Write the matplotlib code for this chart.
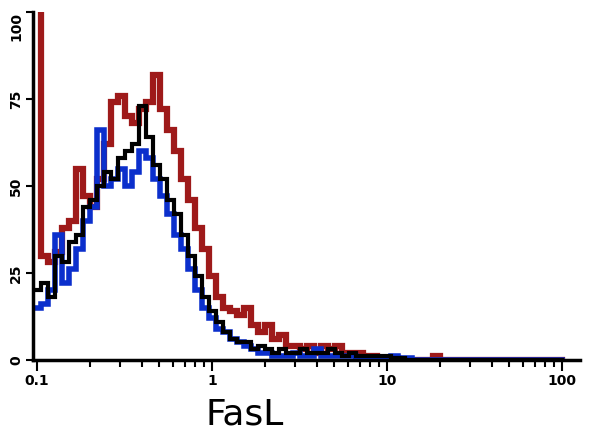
import numpy as np
import matplotlib
matplotlib.use('Agg')
import matplotlib.pyplot as plt
from matplotlib.ticker import LogLocator, NullFormatter, FixedLocator

# histogram counts, one value per log channel (0.04 decade wide, starting at 0.1)
red_counts = [150, 30, 28, 31, 38, 40, 55, 47, 44, 52,
              62, 74, 76, 70, 68, 72, 74, 82, 72, 66,
              60, 52, 46, 38, 32, 24, 18, 15, 14, 13,
              15, 10, 8, 10, 6, 7, 4, 4, 3, 4,
              2, 4, 3, 4, 2, 2, 2, 1, 1, 0.5,
              0, 0.5, 0, 0, 0, 0, 0, 1, 0, 0,
              0, 0, 0, 0, 0, 0, 0, 0, 0, 0,
              0, 0, 0, 0, 0, 0]
blue_counts = [15, 16, 20, 36, 22, 26, 32, 40, 44, 66,
               50, 52, 55, 50, 54, 60, 58, 52, 47, 42,
               36, 32, 26, 20, 15, 12, 9, 8, 6, 5,
               4, 3, 2, 2, 1, 1, 1, 2, 1, 1,
               3, 1, 1, 1, 1, 1, 0.5, 0.5, 0.5, 0.5,
               0.5, 1, 0.5, 0.5, 0, 0, 0, 0, 0, 0,
               0, 0, 0, 0, 0, 0, 0, 0, 0, 0,
               0, 0, 0, 0, 0, 0]
black_counts = [20, 22, 18, 30, 28, 34, 36, 44, 46, 50,
                54, 52, 58, 60, 62, 73, 64, 56, 52, 46,
                42, 36, 30, 24, 18, 14, 11, 8, 6, 5,
                5, 3, 4, 3, 2, 3, 2, 2, 3, 2,
                2, 2, 3, 2, 1, 2, 1, 1, 1, 1,
                1, 0.5, 0.5, 0, 0, 0, 0, 0, 0, 0,
                0, 0, 0, 0, 0, 0, 0, 0, 0, 0,
                0, 0, 0, 0, 0, 0]

x_ticks = [0.1, 1, 10, 100]
x_ticklabels = ["0.1", "1", "10", "100"]
y_ticks = [0, 25, 50, 75, 100]
y_ticklabels = ["0", "25", "50", "75", "100"]

channels = 0.1 * 10 ** (0.04 * np.arange(len(red_counts)))

fig = plt.figure(figsize=(5.9, 4.47), dpi=100)
ax = fig.add_axes([0.056, 0.195, 0.927, 0.778])

ax.step(channels, red_counts, where="mid", color="#9e1a1a", lw=4.5, solid_joinstyle="miter")
ax.step(channels, blue_counts, where="mid", color="#0b2fcc", lw=4, solid_joinstyle="miter")
ax.step(channels, black_counts, where="mid", color="black", lw=3, solid_joinstyle="miter")

ax.set_xscale("log")
ax.set_xlim(0.0949, 126.8)
ax.set_ylim(0, 100)

ax.xaxis.set_major_locator(FixedLocator(x_ticks))
ax.set_xticklabels(x_ticklabels, fontsize=10, fontweight="bold")
ax.xaxis.set_minor_locator(LogLocator(base=10, subs=np.arange(2, 10)))
ax.xaxis.set_minor_formatter(NullFormatter())
ax.set_yticks(y_ticks)
ylabels = ax.set_yticklabels(y_ticklabels, fontsize=10, fontweight="bold", rotation=90, va="center")
ylabels[-1].set_va("top")

for s in ["top", "right"]:
    ax.spines[s].set_visible(False)
for s in ["left", "bottom"]:
    ax.spines[s].set_linewidth(2.5)
ax.tick_params(axis="x", which="major", length=8, width=1.5, pad=2)
ax.tick_params(axis="x", which="minor", length=5, width=1.5)
ax.tick_params(axis="y", which="major", length=5, width=1.5, pad=2)

fig.text(245 / 590, 0.035, "FasL", fontsize=26, ha="center", va="bottom")

fig.savefig("out.png", dpi=100)
